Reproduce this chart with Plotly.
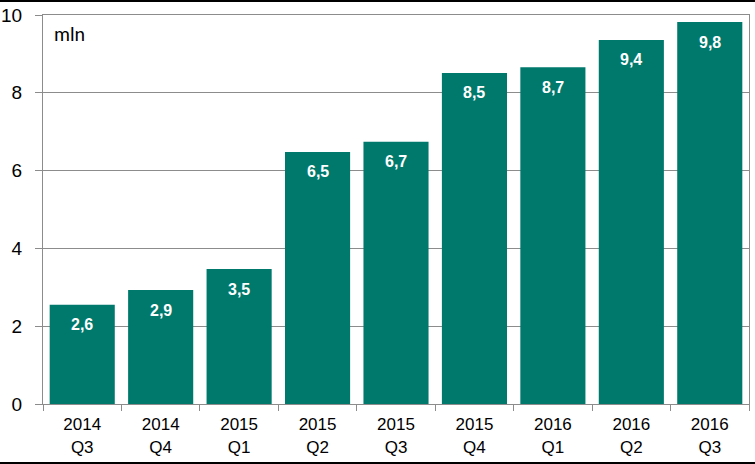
import plotly.graph_objects as go

categories = ["2014<br>Q3", "2014<br>Q4", "2015<br>Q1", "2015<br>Q2", "2015<br>Q3",
              "2015<br>Q4", "2016<br>Q1", "2016<br>Q2", "2016<br>Q3"]
values = [2.55, 2.93, 3.47, 6.48, 6.74, 8.51, 8.66, 9.36, 9.82]
value_labels = ["2,6", "2,9", "3,5", "6,5", "6,7", "8,5", "8,7", "9,4", "9,8"]
y_ticks = [0, 2, 4, 6, 8, 10]

W, H = 755, 464
L, R, T, B = 43, 6, 15, 60
ph = H - T - B
pw = W - L - R
FONT = "Liberation Sans, Arial, sans-serif"

fig = go.Figure()
fig.add_trace(go.Bar(x=categories, y=values, marker=dict(color="#00796D", line=dict(width=0)),
                     hoverinfo="skip"))

for c, v, t in zip(categories, values, value_labels):
    fig.add_annotation(x=c, y=v, text="<b>" + t + "</b>", showarrow=False, yshift=-20,
                       yanchor="middle", xref="x", yref="y",
                       font=dict(family=FONT, size=16, color="white"))

fig.add_annotation(x=0, y=1, xref="paper", yref="paper", xanchor="left", yanchor="top",
                   xshift=9, yshift=-5, text="mln", showarrow=False,
                   font=dict(family="Carlito, Lato, " + FONT, size=20, color="black"))

fig.update_layout(
    width=W, height=H,
    margin=dict(l=L, r=R, t=T, b=B, pad=0, autoexpand=False),
    paper_bgcolor="white", plot_bgcolor="white",
    bargap=0.17,
    showlegend=False,
    font=dict(family=FONT, size=17, color="black"),
    shapes=[
        dict(type="line", xref="paper", yref="paper", x0=-L / pw, x1=1 + R / pw,
             y0=1 + (T - 1) / ph, y1=1 + (T - 1) / ph, line=dict(color="black", width=2)),
        dict(type="line", xref="paper", yref="paper", x0=-L / pw, x1=1 + R / pw,
             y0=-(B - 1) / ph, y1=-(B - 1) / ph, line=dict(color="black", width=2)),
    ],
)
fig.update_xaxes(showline=True, linecolor="#8c8c8c", linewidth=1, mirror=True,
                 ticks="outside", tickson="boundaries", ticklen=6, tickcolor="#8c8c8c",
                 tickfont=dict(size=17), showgrid=False, automargin=False,
                 ticklabelstandoff=5)
fig.update_yaxes(range=[0, 10], tickvals=y_ticks, showline=True, linecolor="#8c8c8c",
                 linewidth=1, mirror=True, ticks="outside", ticklen=7, tickcolor="#8c8c8c",
                 showgrid=True, gridcolor="#8c8c8c", gridwidth=1, zeroline=False,
                 tickfont=dict(size=19), ticklabelstandoff=9, automargin=False)

fig.write_html("out.html", config={"displayModeBar": False},
               post_script="document.body.style.margin='0';document.body.style.padding='0';")
